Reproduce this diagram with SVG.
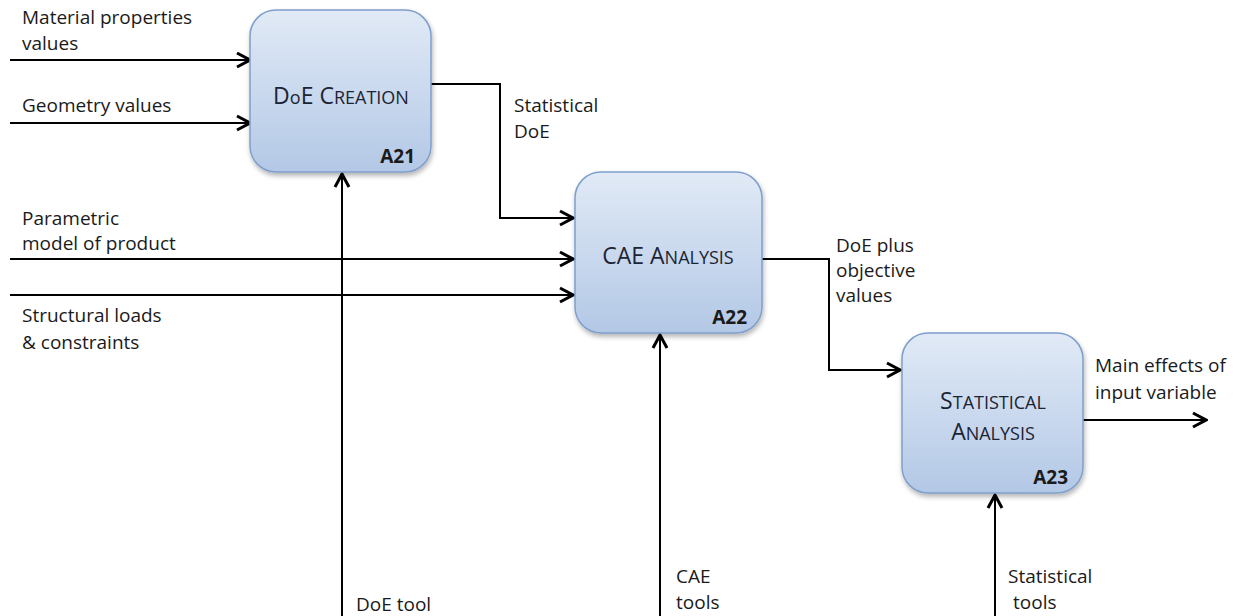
<svg xmlns="http://www.w3.org/2000/svg" width="1236" height="616" viewBox="0 0 1236 616">
<defs>
<linearGradient id="g" x1="0" y1="0" x2="0" y2="1">
<stop offset="0" stop-color="#e1eaf6"/>
<stop offset="1" stop-color="#b3c8e6"/>
</linearGradient>
<filter id="sh" x="-10%" y="-10%" width="125%" height="125%">
<feGaussianBlur in="SourceAlpha" stdDeviation="2.5"/>
<feOffset dx="1" dy="3"/>
<feComponentTransfer><feFuncA type="linear" slope="0.3"/></feComponentTransfer>
<feMerge><feMergeNode/><feMergeNode in="SourceGraphic"/></feMerge>
</filter>
<marker id="ah" markerWidth="18" markerHeight="18" viewBox="0 0 18 18" refX="16" refY="9" orient="auto" markerUnits="userSpaceOnUse">
<path d="M3,2 L16,9 L3,16" fill="none" stroke="#000" stroke-width="3" stroke-linejoin="miter"/>
</marker>
</defs>
<style>
.box{fill:url(#g);stroke:#7f9fcb;stroke-width:1.5;filter:url(#sh)}
.lbl{font-family:"Open Sans","Liberation Sans",sans-serif;font-size:19px;fill:#1a1a1a}
.ttl{font-family:"Open Sans","Liberation Sans",sans-serif;font-size:23px;fill:#1c2433}
.sc{font-size:18px}
.id{font-family:"Open Sans","Liberation Sans",sans-serif;font-size:19px;font-weight:bold;fill:#1a1a1a}
.ln{fill:none;stroke:#000;stroke-width:2;marker-end:url(#ah)}
</style>
<rect width="1236" height="616" fill="#fff"/>
<g id="connectors">
<line class="ln" x1="10" y1="60" x2="250" y2="60"/>
<line class="ln" x1="10" y1="123" x2="250" y2="123"/>
<line class="ln" x1="342" y1="616" x2="342" y2="174"/>
<polyline class="ln" points="431,84 500,84 500,218 573,218"/>
<line class="ln" x1="10" y1="259" x2="573" y2="259"/>
<line class="ln" x1="10" y1="295" x2="573" y2="295"/>
<line class="ln" x1="660" y1="616" x2="660" y2="335"/>
<polyline class="ln" points="762,259 829,259 829,370 900,370"/>
<line class="ln" x1="995" y1="616" x2="995" y2="495"/>
<line class="ln" x1="1083" y1="420" x2="1206" y2="420"/>
</g>
<g id="labels">
<text class="lbl" x="22" y="24">Material properties</text>
<text class="lbl" x="22" y="50">values</text>
<text class="lbl" x="22" y="112">Geometry values</text>
<text class="lbl" x="22" y="225">Parametric</text>
<text class="lbl" x="22" y="250">model of product</text>
<text class="lbl" x="22" y="322">Structural loads</text>
<text class="lbl" x="22" y="349">&amp; constraints</text>
<text class="lbl" x="514" y="112">Statistical</text>
<text class="lbl" x="514" y="138">DoE</text>
<text class="lbl" x="836" y="252">DoE plus</text>
<text class="lbl" x="836" y="277">objective</text>
<text class="lbl" x="836" y="302">values</text>
<text class="lbl" x="1095" y="372">Main effects of</text>
<text class="lbl" x="1095" y="399">input variable</text>
<text class="lbl" x="356" y="611">DoE tool</text>
<text class="lbl" x="676" y="583">CAE</text>
<text class="lbl" x="676" y="609">tools</text>
<text class="lbl" x="1008" y="583">Statistical</text>
<text class="lbl" x="1013" y="609">tools</text>
</g>
<g id="A21">
<rect class="box" x="250" y="10" width="181" height="162" rx="26"/>
<text class="ttl" x="341" y="104" text-anchor="middle">D<tspan class="sc">o</tspan>E C<tspan class="sc">REATION</tspan></text>
<text class="id" x="415" y="163" text-anchor="end">A21</text>
</g>
<g id="A22">
<rect class="box" x="575" y="172" width="187" height="161" rx="26"/>
<text class="ttl" x="668" y="264" text-anchor="middle">CAE A<tspan class="sc">NALYSIS</tspan></text>
<text class="id" x="747" y="324" text-anchor="end">A22</text>
</g>
<g id="A23">
<rect class="box" x="902" y="333" width="181" height="160" rx="26"/>
<text class="ttl" x="993" y="409" text-anchor="middle">S<tspan class="sc">TATISTICAL</tspan></text>
<text class="ttl" x="993" y="440" text-anchor="middle">A<tspan class="sc">NALYSIS</tspan></text>
<text class="id" x="1068" y="484" text-anchor="end">A23</text>
</g>
</svg>
